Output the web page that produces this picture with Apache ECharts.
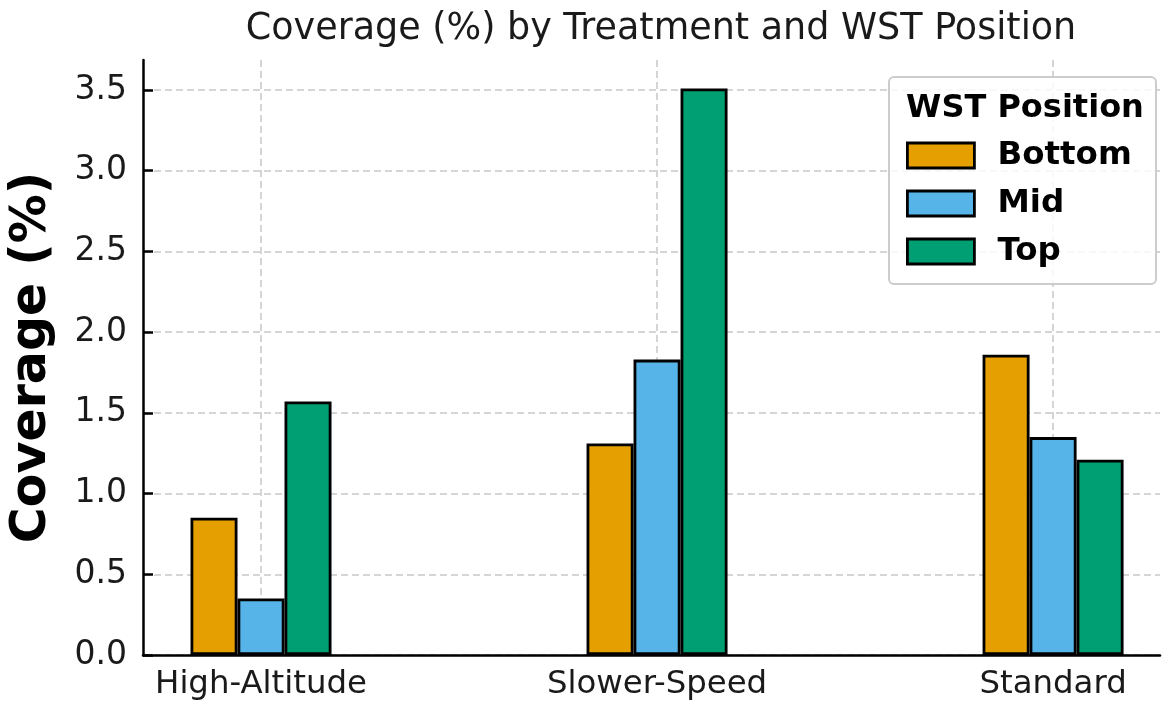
<!DOCTYPE html>
<html>
<head>
<meta charset="utf-8">
<script src="https://cdn.jsdelivr.net/npm/echarts@6/dist/echarts.min.js"></script>
<style>
  html, body { margin: 0; padding: 0; background: #fff; }
  #chart { width: 1163px; height: 703px; }
</style>
</head>
<body>
<div id="chart"></div>
<script>
const categories = ['High-Altitude', 'Slower-Speed', 'Standard'];
const positions = ['Bottom', 'Mid', 'Top'];
const bottomValues = [0.85, 1.31, 1.86];
const midValues = [0.35, 1.83, 1.35];
const topValues = [1.57, 3.51, 1.21];
const yTicks = [0, 0.5, 1.0, 1.5, 2.0, 2.5, 3.0, 3.5];

const colors = ['#E69F00', '#56B4E9', '#009E73'];
const font = 'DejaVu Sans';

let chartDom = document.getElementById('chart');
let chart = echarts.init(chartDom);

const toPairs = (vals) => vals.map((v, i) => [i, v]);
const catIdx = categories.map((c, i) => i);

const makeSeries = (name, vals, color) => ({
    name: name,
    type: 'bar',
    barWidth: 47,
    barGap: '0%',
    data: toPairs(vals),
    itemStyle: { color: color, borderColor: '#000', borderWidth: 2.8 },
    z: 3,
});

var option = {
    animation: false,
    textStyle: { fontFamily: font },
    title: [
        {
            text: 'Coverage (%) by Treatment and WST Position',
            left: 656,
            top: 6,
            textAlign: 'center',
            textStyle: { fontFamily: font, fontSize: 36.5, fontWeight: 'normal', color: '#1a1a1a' },
        },
        {
            text: 'WST Position',
            left: 1020,
            top: 88,
            textAlign: 'center',
            textStyle: { fontFamily: font, fontSize: 32, fontWeight: 'bold', color: '#000' },
            z: 20,
        },
    ],
    // legend frame
    graphic: [{
        type: 'rect',
        left: 888,
        top: 76,
        shape: { width: 267, height: 207, r: 5 },
        style: { fill: 'rgba(255,255,255,0.85)', stroke: '#cccccc', lineWidth: 2 },
        z: 5,
    }],
    legend: {
        data: positions,
        orient: 'vertical',
        left: 906,
        top: 139,
        padding: 0,
        itemWidth: 67,
        itemHeight: 25,
        itemGap: 15,
        icon: 'rect',
        itemStyle: { borderColor: '#000', borderWidth: 2.8 },
        textStyle: { fontFamily: font, fontSize: 32.5, fontWeight: 'bold', color: '#000', lineHeight: 26, padding: [0, 0, 0, 18] },
        z: 10,
    },
    grid: { left: 143, right: 3, top: 60, bottom: 48, containLabel: false },
    xAxis: {
        type: 'value',
        min: -0.298,
        max: 2.27,
        axisLine: { show: true, onZero: false, lineStyle: { color: '#000', width: 2.5 } },
        axisTick: { show: true, inside: true, length: 10, lineStyle: { color: '#000', width: 2.5 }, customValues: catIdx },
        axisLabel: {
            customValues: catIdx,
            formatter: (v) => categories[Math.round(v)] || '',
            fontFamily: font, fontSize: 32.4, color: '#1a1a1a', margin: 14,
        },
        splitLine: { show: true, lineStyle: { color: '#c8c8c8', type: [7, 4], width: 1.5 } },
    },
    yAxis: {
        type: 'value',
        min: 0,
        max: 3.686,
        name: 'Coverage (%)',
        nameLocation: 'middle',
        nameGap: 86,
        nameTextStyle: { fontFamily: font, fontSize: 49, fontWeight: 'bold', color: '#000' },
        axisLine: { show: true, onZero: false, lineStyle: { color: '#000', width: 2.5 } },
        axisTick: { show: true, inside: true, length: 10, lineStyle: { color: '#000', width: 2.5 }, customValues: yTicks },
        axisLabel: {
            customValues: yTicks,
            formatter: (v) => v.toFixed(1),
            fontFamily: font, fontSize: 33, color: '#1a1a1a', margin: 16,
        },
        splitLine: { show: true, lineStyle: { color: '#c8c8c8', type: [7, 4], width: 1.5 } },
    },
    series: [
        makeSeries(positions[0], bottomValues, colors[0]),
        makeSeries(positions[1], midValues, colors[1]),
        makeSeries(positions[2], topValues, colors[2]),
    ],
};
chart.setOption(option);
</script>
</body>
</html>
